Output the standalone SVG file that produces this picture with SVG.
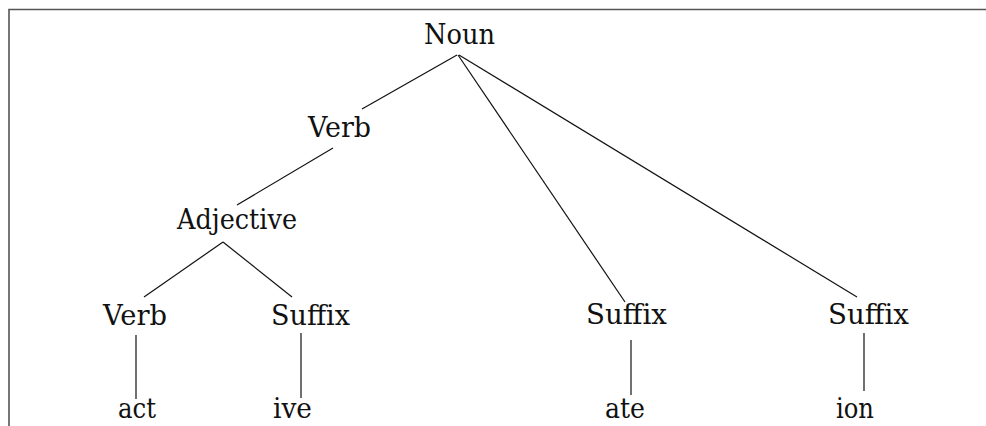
<svg xmlns="http://www.w3.org/2000/svg" width="986" height="426" viewBox="0 0 986 426">
<style>
text{font-family:'DejaVu Serif',serif;font-size:28px;fill:#111;text-anchor:middle;font-weight:normal}
.edge{stroke:#111;stroke-width:1.2;fill:none}
.frame{stroke:#555;stroke-width:1.6;fill:none}
</style>
<rect width="986" height="426" fill="#fff"/>
<path class="frame" d="M9,426 V9.5 H986"/>
<g id="connectors">
<line class="edge" x1="457" y1="55" x2="362" y2="109"/>
<line class="edge" x1="458" y1="55" x2="625" y2="302"/>
<line class="edge" x1="459" y1="55" x2="857" y2="297"/>
<line class="edge" x1="333" y1="148" x2="237" y2="205"/>
<line class="edge" x1="223" y1="242" x2="144" y2="297"/>
<line class="edge" x1="223" y1="242" x2="292" y2="297"/>
<line class="edge" x1="136" y1="335" x2="136" y2="399"/>
<line class="edge" x1="301" y1="333" x2="301" y2="398"/>
<line class="edge" x1="631" y1="340" x2="631" y2="395"/>
<line class="edge" x1="864" y1="333" x2="864" y2="391"/>
</g>
<g id="n-noun"><text x="459.5" y="44" textLength="71" lengthAdjust="spacingAndGlyphs">Noun</text></g>
<g id="n-verb1"><text x="339.5" y="137" textLength="63" lengthAdjust="spacingAndGlyphs">Verb</text></g>
<g id="n-adjective"><text x="237" y="229" textLength="120" lengthAdjust="spacingAndGlyphs">Adjective</text></g>
<g id="n-verb2"><text x="135" y="325" textLength="64" lengthAdjust="spacingAndGlyphs">Verb</text></g>
<g id="n-suffix1"><text x="310.5" y="325" textLength="79" lengthAdjust="spacingAndGlyphs">Suffix</text></g>
<g id="n-suffix2"><text x="626.5" y="324" textLength="81" lengthAdjust="spacingAndGlyphs">Suffix</text></g>
<g id="n-suffix3"><text x="868.5" y="324" textLength="81" lengthAdjust="spacingAndGlyphs">Suffix</text></g>
<g id="n-act"><text x="137" y="418" textLength="38" lengthAdjust="spacingAndGlyphs">act</text></g>
<g id="n-ive"><text x="292.5" y="418" textLength="39" lengthAdjust="spacingAndGlyphs">ive</text></g>
<g id="n-ate"><text x="625" y="418" textLength="40" lengthAdjust="spacingAndGlyphs">ate</text></g>
<g id="n-ion"><text x="855" y="418" textLength="38" lengthAdjust="spacingAndGlyphs">ion</text></g>
</svg>
